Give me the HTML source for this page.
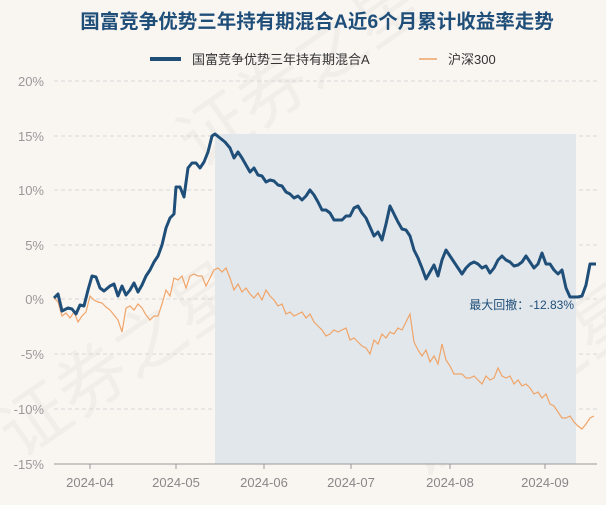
<!DOCTYPE html>
<html><head><meta charset="utf-8"><style>
html,body{margin:0;padding:0;background:#f9f6f2;}
body{width:606px;height:500px;overflow:hidden;font-family:"Liberation Sans","Noto Sans CJK SC",sans-serif;}
</style></head><body>
<svg width="606" height="500" xmlns="http://www.w3.org/2000/svg" font-family="Liberation Sans, Noto Sans CJK SC, sans-serif">
<rect width="606" height="500" fill="#f9f6f2"/>
<g fill="#000" opacity="0.035" font-size="70" font-family="Noto Sans CJK SC, sans-serif">
<text transform="translate(20,460) rotate(-35)">证券之星</text>
<text transform="translate(420,480) rotate(-35)">证券之星</text>
<text transform="translate(200,170) rotate(-35)">证券之星</text>
</g>
<text x="317" y="28" text-anchor="middle" font-size="19.5" font-weight="bold" fill="#1f4e79">国富竞争优势三年持有期混合A近6个月累计收益率走势</text>
<rect x="150" y="57" width="31" height="4" fill="#1f4e79"/>
<text x="192" y="64" font-size="13" fill="#333">国富竞争优势三年持有期混合A</text>
<line x1="419" y1="59" x2="437" y2="59" stroke="#f0a468" stroke-width="1.5"/>
<text x="448" y="64" font-size="13" fill="#333">沪深300</text>
<g stroke="#d8d8d8" stroke-dasharray="4,3" stroke-width="1">
<line x1="54" y1="81" x2="597" y2="81"/><line x1="54" y1="136" x2="597" y2="136"/>
<line x1="54" y1="190" x2="597" y2="190"/><line x1="54" y1="245" x2="597" y2="245"/>
<line x1="54" y1="299" x2="597" y2="299"/><line x1="54" y1="354" x2="597" y2="354"/>
<line x1="54" y1="409" x2="597" y2="409"/>
</g>
<g font-size="13" fill="#999" text-anchor="end">
<text x="44" y="86">20%</text><text x="44" y="141">15%</text><text x="44" y="195">10%</text>
<text x="44" y="250">5%</text><text x="44" y="304">0%</text><text x="44" y="359">-5%</text>
<text x="44" y="414">-10%</text><text x="44" y="469">-15%</text>
</g>
<rect x="215" y="134" width="361" height="330" fill="#dfe5ea" opacity="0.9"/>
<line x1="54" y1="464" x2="597" y2="464" stroke="#999" stroke-width="1"/>
<g stroke="#999"><line x1="90" y1="464" x2="90" y2="469"/><line x1="176" y1="464" x2="176" y2="469"/><line x1="264" y1="464" x2="264" y2="469"/><line x1="351" y1="464" x2="351" y2="469"/><line x1="450" y1="464" x2="450" y2="469"/><line x1="545" y1="464" x2="545" y2="469"/></g>
<g font-size="13" fill="#888" text-anchor="middle">
<text x="90" y="487">2024-04</text><text x="176" y="487">2024-05</text><text x="264" y="487">2024-06</text>
<text x="351" y="487">2024-07</text><text x="450" y="487">2024-08</text><text x="545" y="487">2024-09</text>
</g>
<polyline fill="none" stroke="#f0a468" stroke-width="1.2" points="54,298 58,302 62,316 66,313 70,318 74,312 78,322 82,316 86,312 90,296 94,300 98,302 102,303 106,307 110,310 114,315 118,320 122,332 126,308 130,306 134,310 138,304 142,308 146,315 150,320 154,316 158,316 162,304 166,290 170,296 174,278 178,280 182,276 186,288 190,276 194,274 198,276 202,276 206,286 210,278 214,270 218,268 222,272 226,268 230,278 234,290 238,284 242,292 246,288 250,294 254,298 258,293 262,300 266,290 270,296 274,300 278,306 282,304 286,314 290,312 294,316 298,314 302,312 306,318 310,314 314,322 318,326 322,330 326,336 330,334 334,330 338,332 342,330 346,328 350,340 354,338 358,342 362,346 366,348 370,354 374,340 378,344 382,334 386,338 390,332 394,334 398,328 402,330 406,322 410,314 414,342 418,350 422,356 426,350 430,362 434,356 438,364 442,344 446,360 450,366 454,374 458,374 462,374 466,378 470,378 474,376 478,380 482,384 486,376 490,380 494,378 498,368 502,376 506,378 510,376 514,384 518,380 522,386 526,384 530,388 534,394 538,392 542,398 546,394 550,404 554,406 558,412 562,418 566,418 570,416 574,422 578,426 582,429 586,424 590,418 594,416"/>
<polyline fill="none" stroke="#1f4e79" stroke-width="3" stroke-linejoin="round" points="54,298 58,294 62,311 68,308 72,309 76,314 80,305 84,306 88,290 92,276 96,277 100,288 104,291 110,286 114,284 118,296 122,286 126,295 130,290 134,283 138,292 142,285 146,276 150,270 154,262 158,256 162,245 166,228 170,218 174,214 176,187 180,187 184,197 188,168 192,163 196,163 200,168 204,162 208,152 212,136 215,134 220,138 225,142 230,148 234,158 238,152 242,158 246,165 250,172 254,168 258,175 262,176 266,182 270,180 274,181 278,185 282,186 286,192 290,194 294,198 298,196 302,200 306,196 310,190 314,195 318,202 322,210 326,210 330,213 334,220 338,220 342,220 346,216 350,216 354,208 358,206 362,213 366,218 370,227 374,236 378,232 382,240 386,224 390,206 394,214 398,222 402,229 406,230 410,236 414,250 418,258 422,268 426,279 430,272 434,265 438,276 442,260 446,250 450,256 454,262 458,268 462,274 466,268 470,264 474,262 478,264 482,268 486,266 490,273 494,268 498,260 502,256 506,260 510,262 514,266 518,265 522,262 526,256 530,262 534,268 538,264 542,253 546,264 550,264 554,270 558,274 562,270 566,288 570,297 574,297 578,297 582,296 586,285 590,264 596,264"/>
<text x="574" y="309" text-anchor="end" font-size="12" fill="#1f4e79">最大回撤：-12.83%</text>
</svg>
</body></html>
